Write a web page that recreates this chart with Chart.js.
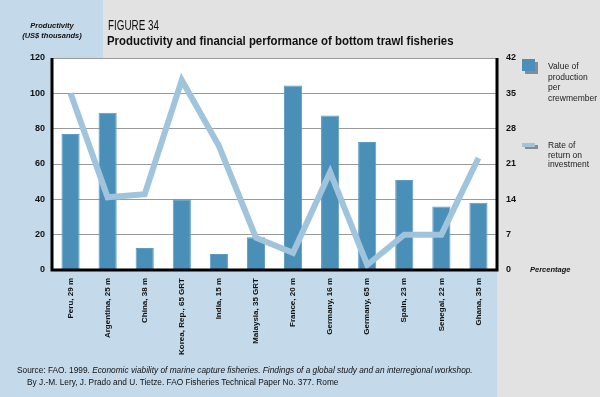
<!DOCTYPE html>
<html><head><meta charset="utf-8">
<script src="https://cdn.jsdelivr.net/npm/chart.js@4.4.0/dist/chart.umd.min.js"></script>
<style>
html,body{margin:0;padding:0;width:600px;height:397px;overflow:hidden;background:#e2e2e2;font-family:"Liberation Sans",Arial,sans-serif;}
#wrap{position:relative;width:600px;height:397px;}
canvas{position:absolute;left:0;top:0;}
.t{position:absolute;color:#111;white-space:nowrap;}
</style></head><body>
<div id="wrap">
<canvas id="c" width="600" height="397"></canvas>
<div class="t" style="left:108px;top:17px;font-size:14.5px;transform:scaleX(0.68);transform-origin:0 0;">FIGURE 34</div>
<div class="t" style="left:107px;top:34px;font-size:12px;font-weight:bold;transform:scaleX(0.95);transform-origin:0 0;">Productivity and financial performance of bottom trawl fisheries</div>
<div class="t" style="left:0;width:104px;top:21px;text-align:center;font-size:7.5px;font-weight:bold;font-style:italic;line-height:10px;">Productivity<br>(US$ thousands)</div>
<div class="t" style="left:530px;top:265px;font-size:7.5px;font-weight:bold;font-style:italic;">Percentage</div>
<div style="position:absolute;left:525px;top:62px;width:13px;height:12px;background:#8a8a8a;"></div>
<div style="position:absolute;left:522px;top:59px;width:13px;height:12px;background:#4a8fb8;"></div>
<div class="t" style="left:548px;top:61px;font-size:8.5px;line-height:10.5px;color:#222;">Value of<br>production<br>per<br>crewmember</div>
<div style="position:absolute;left:525px;top:145px;width:13px;height:4px;background:#8a8a8a;"></div>
<div style="position:absolute;left:522px;top:143px;width:13px;height:4px;background:#9fc4dc;"></div>
<div class="t" style="left:548px;top:141px;font-size:8.5px;line-height:9.5px;color:#222;">Rate of<br>return on<br>investment</div>
<div class="t" style="left:17px;top:365px;font-size:8.3px;color:#111;">Source: FAO. 1999. <i>Economic viability of marine capture fisheries. Findings of a global study and an interregional workshop.</i></div>
<div class="t" style="left:27px;top:377px;font-size:8.3px;color:#111;">By J.-M. Lery, J. Prado and U. Tietze. FAO Fisheries Technical Paper No. 377. Rome</div>
</div>
<script>
const categories = ["Peru, 29 m","Argentina, 25 m","China, 38 m","Korea, Rep., 65 GRT","India, 15 m","Malaysia, 35 GRT","France, 20 m","Germany, 16 m","Germany, 65 m","Spain, 23 m","Senegal, 22 m","Ghana, 35 m"];
const productionValues = [77, 89, 12.5, 40, 9, 18.5, 104.5, 87.5, 72.5, 51, 36, 38];
const returnRates = [35, 14.4, 15, 37.6, 24.6, 6.4, 3.4, 19.4, 1, 7, 7, 22.2];
const leftTicks = [0,20,40,60,80,100,120];
const rightTicks = [0,7,14,21,28,35,42];

const bgPlugin = {
  id:'bg',
  beforeDraw(chart){
    const ctx = chart.ctx, a = chart.chartArea;
    ctx.save();
    ctx.fillStyle = '#e2e2e2'; ctx.fillRect(0,0,600,397);
    ctx.fillStyle = '#c4d9e9';
    ctx.fillRect(0,0,103,397);
    ctx.fillRect(0,a.bottom,a.right,397-a.bottom);
    ctx.fillStyle = '#ffffff';
    ctx.fillRect(a.left,a.top,a.right-a.left,a.bottom-a.top);
    ctx.restore();
  },
  afterDatasetsDraw(chart){
    const ctx = chart.ctx, a = chart.chartArea;
    ctx.save();
    ctx.strokeStyle = '#000'; ctx.lineWidth = 3;
    ctx.beginPath();
    ctx.moveTo(a.left, a.top); ctx.lineTo(a.left, a.bottom); ctx.lineTo(a.right, a.bottom); ctx.lineTo(a.right, a.top);
    ctx.stroke();
    ctx.restore();
  }
};

new Chart(document.getElementById('c'), {
  data: {
    labels: categories,
    datasets: [
      {type:'line', data: returnRates, yAxisID:'y1', borderColor:'#9fc4dc', borderWidth:6, pointRadius:0, tension:0, borderJoinStyle:'miter', order:0},
      {type:'bar', data: productionValues, yAxisID:'y', backgroundColor:'#4a8fb8', borderColor:'#5d9cc2', borderWidth:1, categoryPercentage:1, barPercentage:0.49, order:1}
    ]
  },
  options: {
    responsive:false, animation:false,
    layout:{padding:{top:58,left:0,right:0,bottom:0}},
    plugins:{legend:{display:false}, tooltip:{enabled:false}},
    scales:{
      x:{
        grid:{display:false, drawTicks:false},
        border:{display:false},
        ticks:{maxRotation:90, minRotation:90, autoSkip:false, padding:8, color:'#111', font:{family:'Liberation Sans', size:8, weight:'bold'}},
        afterFit(s){ s.height = 127; }
      },
      y:{
        position:'left', min:0, max:120,
        afterBuildTicks(s){ s.ticks = leftTicks.map(v=>({value:v})); },
        grid:{color:'#9a9a9a', lineWidth:1, drawTicks:false},
        border:{display:false},
        ticks:{padding:7, color:'#111', font:{family:'Liberation Sans', size:9, weight:'bold'}},
        afterFit(s){ s.width = 52; }
      },
      y1:{
        position:'right', min:0, max:42,
        afterBuildTicks(s){ s.ticks = rightTicks.map(v=>({value:v})); },
        grid:{display:false, drawTicks:false},
        border:{display:false},
        ticks:{padding:9, color:'#111', font:{family:'Liberation Sans', size:9, weight:'bold'}},
        afterFit(s){ s.width = 103; }
      }
    }
  },
  plugins:[bgPlugin]
});
</script>
</body></html>
